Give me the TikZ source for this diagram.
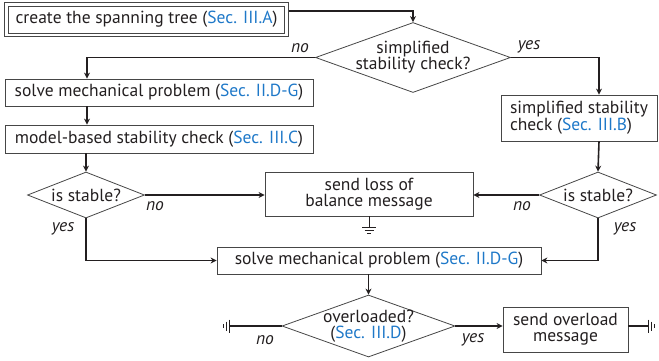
\documentclass[tikz,border=0pt]{standalone}
\usepackage{fontspec}
\setmainfont{PT Sans}
\usetikzlibrary{shapes.geometric,arrows.meta,calc}
\definecolor{secblue}{RGB}{30,120,200}
\definecolor{txt}{RGB}{35,31,32}
\definecolor{bord}{RGB}{70,70,70}
\newcommand{\sref}[1]{(\textcolor{secblue}{Sec. #1})}
\begin{document}
\begin{tikzpicture}[x=1pt,y=-1pt,
  every node/.style={text=txt,font=\fontsize{17.5}{16}\selectfont},
  box/.style={draw=bord,line width=0.8pt,rectangle,inner sep=0pt,align=center},
  dia/.style={draw=bord,line width=0.8pt,diamond,inner sep=0pt,align=center},
  dtext/.style={align=center,inner sep=0pt},
  conn/.style={draw=txt,line width=1.6pt,-{Stealth[length=6pt,width=6pt]}},
  plainconn/.style={draw=txt,line width=1.6pt},
  lbl/.style={font=\fontsize{17.5}{16}\selectfont\itshape,inner sep=0pt},
  gnd/.style={draw=txt,line width=0.8pt}
]
\useasboundingbox (0,0) rectangle (659,360);
% nodes
\node[box,minimum width=276.5pt,minimum height=26.7pt] (b1) at (146.5,19.6) {create the spanning tree \sref{III.A}};
\draw[bord,line width=0.8pt] ($(b1.north west)+(-3.2,-3.2)$) rectangle ($(b1.south east)+(3.2,3.2)$);
\node[dia,minimum width=195pt,minimum height=70pt] (d1) at (413,57.5) {};
\node[dtext] (d1t) at (d1.center) {simplified\\stability check?};
\node[box,minimum width=308pt,minimum height=27pt] (b2) at (159,92.5) {solve mechanical problem \sref{II.D-G}};
\node[box,minimum width=308pt,minimum height=28pt] (b3) at (159,139) {model-based stability check \sref{III.C}};
\node[box,minimum width=156pt,minimum height=46pt,align=left] (ssc) at (579,118) {simplified stability\\check \sref{III.B}};
\node[dia,minimum width=117pt,minimum height=46pt] (dl) at (86,195) {};
\node[dtext] (dlt) at (dl.center) {is stable?};
\node[dia,minimum width=117pt,minimum height=46pt] (dr) at (598,195) {};
\node[dtext] (drt) at (dr.center) {is stable?};
\node[box,minimum width=208pt,minimum height=44pt] (loss) at (369,194) {send loss of\\balance message};
\node[box,minimum width=324pt,minimum height=27pt] (b4) at (379,260.5) {solve mechanical problem \sref{II.D-G}};
\node[dia,minimum width=173pt,minimum height=62pt] (d3) at (368.5,326) {};
\node[dtext] (d3t) at (d3.center) {overloaded?\\\sref{III.D}};
\node[box,minimum width=125pt,minimum height=45pt] (ovl) at (565.5,329.5) {send overload\\message};
% connector helper coordinates
\coordinate (b1out) at ($(b1.north east)!0.18!(b1.south east)+(3.6,0)$);
\coordinate (gL) at (229,326);
\coordinate (gR) at (648,326);
\coordinate (gB) at (369,227);
% connectors
\draw[conn] (b1out) -| (d1.north);
\draw[conn] (d1.west) -| (b2.north -| 87,0);
\draw[conn] (d1.east) -| (ssc.north -| 599,0);
\draw[conn] (b2.south -| 87,0) -- (b3.north -| 87,0);
\draw[conn] (b3.south -| 86,0) -- (dl.north);
\draw[conn] (ssc.south -| 599,0) -- (dr.north);
\draw[conn] (dl.east) -- (dl.east -| loss.west);
\draw[conn] (dr.west) -- (dr.west -| loss.east);
\draw[conn] (dl.south) |- (b4.west);
\draw[conn] (dr.south) |- (b4.east);
\draw[conn] (b4.south -| d3.north) -- (d3.north);
\draw[conn] (d3.east) -- (d3.east -| ovl.west);
\draw[plainconn] (d3.west) -- (gL);
\draw[plainconn] (ovl.east |- gR) -- (gR);
% ground symbols
\draw[gnd] (loss.south -| gB) -- (gB);
\draw[gnd] ($(gB)+(-7,0)$) -- ($(gB)+(7,0)$);
\draw[gnd] ($(gB)+(-4.5,3)$) -- ($(gB)+(4.5,3)$);
\draw[gnd] ($(gB)+(-2,6)$) -- ($(gB)+(2,6)$);
\draw[gnd] ($(gL)+(0,-6.5)$) -- ($(gL)+(0,6.5)$);
\draw[gnd] ($(gL)+(-3,-4.5)$) -- ($(gL)+(-3,4.5)$);
\draw[gnd] ($(gL)+(-6,-2)$) -- ($(gL)+(-6,2)$);
\draw[gnd] ($(gR)+(0,-6.5)$) -- ($(gR)+(0,6.5)$);
\draw[gnd] ($(gR)+(3,-4.5)$) -- ($(gR)+(3,4.5)$);
\draw[gnd] ($(gR)+(6,-2)$) -- ($(gR)+(6,2)$);
% labels
\node[lbl] (lno1) at (300,48) {no};
\node[lbl] (lyes1) at (529,47) {yes};
\node[lbl] (lno2) at (155,206) {no};
\node[lbl] (lyes2) at (63,229) {yes};
\node[lbl] (lno3) at (522,206) {no};
\node[lbl] (lyes3) at (625,229) {yes};
\node[lbl] (lno4) at (265,340) {no};
\node[lbl] (lyes4) at (473,340) {yes};
\end{tikzpicture}
\end{document}
